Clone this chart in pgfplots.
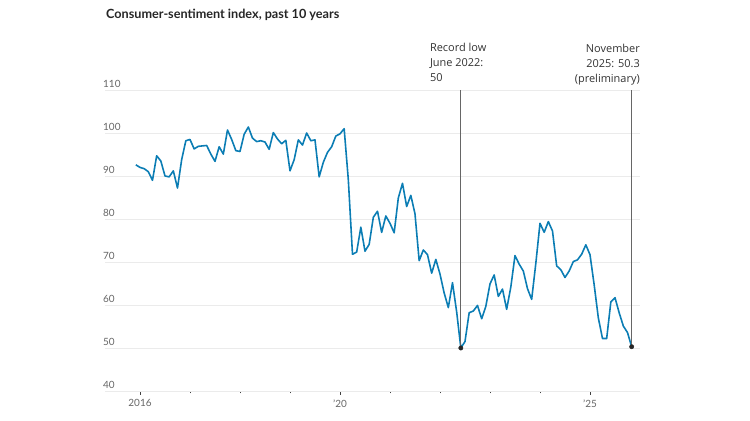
\documentclass[border=0pt]{standalone}
\usepackage{fontspec}
\setmainfont{Lato}
\newfontfamily\annfont{Open Sans}
\usepackage{pgfplots}
\usepackage{pgfplotstable}
\pgfplotsset{compat=1.18}
\definecolor{sline}{HTML}{0B7DB4}
\definecolor{tickc}{HTML}{666666}
\definecolor{gridc}{HTML}{EBEBEB}
\definecolor{annc}{HTML}{333333}
\definecolor{vline}{HTML}{666666}
% Monthly index, Dec 2015 .. Nov 2025
\pgfplotstableread{
y
92.6
92.0
91.7
91.0
89.0
94.7
93.5
90.0
89.8
91.2
87.2
93.8
98.2
98.5
96.3
96.9
97.0
97.1
95.1
93.4
96.8
95.1
100.7
98.5
95.9
95.7
99.7
101.4
98.8
98.0
98.2
97.9
96.2
100.1
98.6
97.5
98.3
91.2
93.8
98.4
97.2
100.0
98.2
98.4
89.8
93.2
95.5
96.8
99.3
99.8
101.0
89.1
71.8
72.3
78.1
72.5
74.1
80.4
81.8
76.9
80.7
79.0
76.8
84.9
88.3
82.9
85.5
81.2
70.3
72.8
71.7
67.4
70.6
67.2
62.8
59.4
65.2
58.4
50.0
51.5
58.2
58.6
59.9
56.8
59.7
64.9
67.0
62.0
63.7
59.0
64.2
71.5
69.5
67.9
63.8
61.3
69.7
79.0
76.9
79.4
77.2
69.1
68.2
66.4
67.9
70.1
70.5
71.8
74.0
71.7
64.7
57.0
52.2
52.2
60.7
61.7
58.2
55.1
53.6
50.3
}\sentiment
\begin{document}
\begin{tikzpicture}
\path[use as bounding box] (0bp,0bp) rectangle (750bp,421bp);
\node[anchor=base west, inner sep=0, font=\bfseries\fontsize{12.7}{14}\selectfont, text=black!85] at (106bp,402bp) {Consumer-sentiment index, past 10 years};
\begin{axis}[
  at={(105bp,30bp)}, anchor=south west,
  scale only axis, width=535bp, height=301bp,
  xmin=2015.3, xmax=2026, ymin=40, ymax=110,
  clip=false,
  axis x line*=bottom, axis y line*=left,
  y axis line style={draw=none},
  x axis line style={draw=gridc, line width=1pt},
  ytick={40,50,...,110},
  ytick style={draw=none},
  ymajorgrids=true,
  grid style={draw=gridc, line width=0.9pt},
  yticklabel style={anchor=south west, inner sep=0pt, xshift=2bp, yshift=2bp, font=\fontsize{10}{12}\selectfont, text=tickc},
  xtick={2016,2020,2025},
  xticklabels={2016,'20,'25},
  minor xtick={2017,2018,2019,2021,2022,2023,2024},
  tick align=outside,
  major tick length=4bp, minor tick length=2.5bp,
  xtick style={draw=black!75, line width=0.6pt},
  xticklabel style={font=\fontsize{10}{12}\selectfont, text=tickc, yshift=-1bp},
  /pgf/number format/assume math mode=true,
]
\addplot[sline, line width=1.6pt, line join=round] table[x expr=2015.916667+\coordindex/12, y=y] {\sentiment};
\draw[vline, line width=0.9pt] (axis cs:2022.416667,50) -- (axis cs:2022.416667,110);
\draw[vline, line width=0.9pt] (axis cs:2025.833333,50.3) -- (axis cs:2025.833333,110);
\addplot[only marks, mark=*, mark size=2.2pt, black!85] coordinates {(2022.416667,50.0) (2025.833333,50.3)};
\node[anchor=south west, align=left, inner sep=0, font=\annfont\fontsize{11}{15}\selectfont, text=annc] at (axis cs:2022.416667,110) [xshift=-31bp, yshift=8bp] {Record low\\June 2022:\\50};
\node[anchor=south east, align=right, inner sep=0, font=\annfont\fontsize{11}{15}\selectfont, text=annc] at (axis cs:2026,110) [yshift=5bp] {November\\2025: 50.3\\(preliminary)};
\end{axis}
\end{tikzpicture}
\end{document}
